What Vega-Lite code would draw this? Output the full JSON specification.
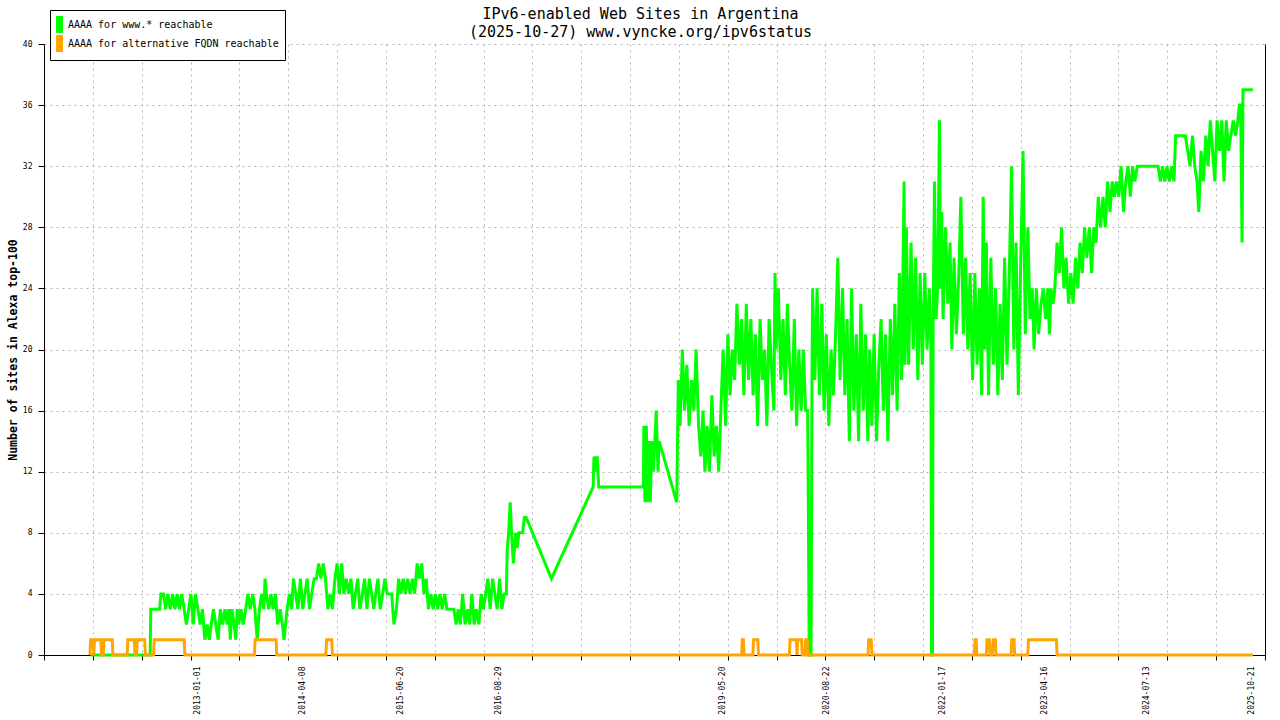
{
"$schema": "https://vega.github.io/schema/vega-lite/v6.json",
"width": 1221, "height": 611,
"autosize": {"type": "none"},
"padding": {"left": 44, "top": 44, "right": 15, "bottom": 65},
"background": "white",
"title": {"text": ["IPv6-enabled Web Sites in Argentina", "(2025-10-27) www.vyncke.org/ipv6status"], "font": "DejaVu Sans Mono", "fontSize": 15, "fontWeight": "normal", "lineHeight": 18, "anchor": "middle", "frame": "group", "dx": -14, "dy": 36, "offset": 6, "color": "black"},
"datasets": {
"g": [
{"d":"2011-09-12","v":0},{"d":"2012-06-03","v":0},{"d":"2012-06-06","v":3},{"d":"2012-07-15","v":3},{"d":"2012-07-21","v":4},{"d":"2012-08-01","v":4},{"d":"2012-08-11","v":3},{"d":"2012-08-21","v":4},{"d":"2012-09-01","v":3},{"d":"2012-09-11","v":4},{"d":"2012-09-21","v":3},{"d":"2012-10-01","v":4},{"d":"2012-10-11","v":3},{"d":"2012-10-21","v":4},{"d":"2012-11-01","v":3},{"d":"2012-11-11","v":2},{"d":"2012-11-21","v":3},{"d":"2012-12-01","v":4},{"d":"2012-12-11","v":2},{"d":"2012-12-21","v":4},
{"d":"2013-01-01","v":3},{"d":"2013-01-11","v":2},{"d":"2013-01-21","v":3},{"d":"2013-02-01","v":1},{"d":"2013-02-11","v":2},{"d":"2013-02-21","v":1},{"d":"2013-03-01","v":2},{"d":"2013-03-11","v":3},{"d":"2013-03-21","v":2},{"d":"2013-04-01","v":1},{"d":"2013-04-11","v":3},{"d":"2013-04-21","v":2},{"d":"2013-05-01","v":3},{"d":"2013-05-11","v":2},{"d":"2013-05-18","v":3},{"d":"2013-05-25","v":1},{"d":"2013-06-01","v":3},{"d":"2013-06-11","v":2},{"d":"2013-06-18","v":1},{"d":"2013-06-25","v":3},{"d":"2013-07-01","v":2},{"d":"2013-07-11","v":3},{"d":"2013-07-21","v":2},{"d":"2013-08-01","v":3},{"d":"2013-08-11","v":4},{"d":"2013-08-21","v":3},{"d":"2013-09-01","v":4},{"d":"2013-09-11","v":3},{"d":"2013-09-21","v":1},{"d":"2013-10-01","v":3},{"d":"2013-10-11","v":4},{"d":"2013-10-21","v":3},{"d":"2013-10-26","v":5},{"d":"2013-11-01","v":4},{"d":"2013-11-11","v":3},{"d":"2013-11-21","v":4},{"d":"2013-12-01","v":3},{"d":"2013-12-11","v":4},{"d":"2013-12-21","v":2},
{"d":"2014-01-01","v":3},{"d":"2014-01-11","v":2},{"d":"2014-01-18","v":1},{"d":"2014-01-25","v":2},{"d":"2014-02-01","v":3},{"d":"2014-02-11","v":4},{"d":"2014-02-21","v":3},{"d":"2014-03-01","v":5},{"d":"2014-03-11","v":4},{"d":"2014-03-21","v":3},{"d":"2014-04-01","v":5},{"d":"2014-04-11","v":3},{"d":"2014-04-21","v":4},{"d":"2014-05-01","v":5},{"d":"2014-05-11","v":3},{"d":"2014-05-21","v":4},{"d":"2014-06-01","v":5},{"d":"2014-06-11","v":5},{"d":"2014-06-21","v":6},{"d":"2014-07-01","v":5},{"d":"2014-07-11","v":6},{"d":"2014-07-21","v":5},{"d":"2014-08-01","v":3},{"d":"2014-08-11","v":4},{"d":"2014-08-21","v":3},{"d":"2014-09-01","v":5},{"d":"2014-09-11","v":6},{"d":"2014-09-21","v":4},{"d":"2014-10-01","v":6},{"d":"2014-10-11","v":4},{"d":"2014-10-21","v":5},{"d":"2014-11-01","v":4},{"d":"2014-11-11","v":5},{"d":"2014-11-21","v":3},{"d":"2014-12-01","v":4},{"d":"2014-12-11","v":5},{"d":"2014-12-21","v":3},
{"d":"2015-01-01","v":4},{"d":"2015-01-11","v":5},{"d":"2015-01-21","v":3},{"d":"2015-02-01","v":5},{"d":"2015-02-11","v":4},{"d":"2015-02-21","v":3},{"d":"2015-03-01","v":4},{"d":"2015-03-11","v":5},{"d":"2015-03-21","v":3},{"d":"2015-04-01","v":4},{"d":"2015-04-11","v":5},{"d":"2015-04-21","v":4},{"d":"2015-05-11","v":4},{"d":"2015-05-21","v":2},{"d":"2015-06-01","v":3},{"d":"2015-06-11","v":5},{"d":"2015-06-21","v":4},{"d":"2015-07-01","v":5},{"d":"2015-07-11","v":4},{"d":"2015-07-21","v":5},{"d":"2015-08-01","v":4},{"d":"2015-08-11","v":5},{"d":"2015-08-21","v":4},{"d":"2015-09-01","v":6},{"d":"2015-09-11","v":5},{"d":"2015-09-21","v":6},{"d":"2015-10-01","v":4},{"d":"2015-10-11","v":5},{"d":"2015-10-21","v":3},{"d":"2015-11-01","v":4},{"d":"2015-11-11","v":3},{"d":"2015-11-21","v":4},{"d":"2015-12-01","v":3},{"d":"2015-12-11","v":4},{"d":"2015-12-21","v":3},
{"d":"2016-01-01","v":4},{"d":"2016-01-11","v":3},{"d":"2016-02-11","v":3},{"d":"2016-02-21","v":2},{"d":"2016-03-01","v":3},{"d":"2016-03-11","v":2},{"d":"2016-03-21","v":4},{"d":"2016-04-01","v":2},{"d":"2016-04-11","v":3},{"d":"2016-04-21","v":2},{"d":"2016-05-01","v":4},{"d":"2016-05-11","v":2},{"d":"2016-05-21","v":3},{"d":"2016-06-01","v":2},{"d":"2016-06-11","v":4},{"d":"2016-06-21","v":3},{"d":"2016-07-01","v":4},{"d":"2016-07-11","v":5},{"d":"2016-07-21","v":3},{"d":"2016-08-01","v":5},{"d":"2016-08-11","v":4},{"d":"2016-08-21","v":3},{"d":"2016-09-01","v":5},{"d":"2016-09-11","v":3},{"d":"2016-09-21","v":4},{"d":"2016-10-01","v":4},{"d":"2016-10-05","v":7},{"d":"2016-10-11","v":8},{"d":"2016-10-18","v":10},{"d":"2016-10-24","v":8},{"d":"2016-11-01","v":6},{"d":"2016-11-11","v":8},{"d":"2016-11-18","v":7},{"d":"2016-11-25","v":8},{"d":"2016-12-12","v":8},{"d":"2016-12-20","v":9},{"d":"2016-12-28","v":9},
{"d":"2017-04-19","v":5},{"d":"2017-10-21","v":11},{"d":"2017-10-25","v":13},{"d":"2017-11-01","v":12},{"d":"2017-11-08","v":13},{"d":"2017-11-15","v":11},
{"d":"2018-06-01","v":11},{"d":"2018-06-03","v":15},{"d":"2018-06-08","v":10},{"d":"2018-06-14","v":15},{"d":"2018-06-20","v":10},{"d":"2018-06-26","v":14},{"d":"2018-07-02","v":10},{"d":"2018-07-08","v":14},{"d":"2018-07-15","v":12},{"d":"2018-07-22","v":14},{"d":"2018-07-28","v":16},{"d":"2018-08-05","v":12},{"d":"2018-08-10","v":14},{"d":"2018-10-27","v":10},{"d":"2018-11-03","v":18},{"d":"2018-11-11","v":15},{"d":"2018-11-21","v":20},{"d":"2018-12-01","v":16},{"d":"2018-12-11","v":19},{"d":"2018-12-21","v":15},
{"d":"2019-01-01","v":18},{"d":"2019-01-11","v":16},{"d":"2019-01-21","v":20},{"d":"2019-02-01","v":15},{"d":"2019-02-11","v":13},{"d":"2019-02-21","v":16},{"d":"2019-03-01","v":12},{"d":"2019-03-11","v":15},{"d":"2019-03-21","v":12},{"d":"2019-04-01","v":17},{"d":"2019-04-11","v":13},{"d":"2019-04-21","v":15},{"d":"2019-05-01","v":12},{"d":"2019-05-11","v":16},{"d":"2019-05-21","v":20},{"d":"2019-06-01","v":15},{"d":"2019-06-11","v":21},{"d":"2019-06-21","v":17},{"d":"2019-07-01","v":20},{"d":"2019-07-11","v":18},{"d":"2019-07-21","v":23},{"d":"2019-08-01","v":19},{"d":"2019-08-11","v":22},{"d":"2019-08-21","v":17},{"d":"2019-09-01","v":23},{"d":"2019-09-11","v":18},{"d":"2019-09-21","v":22},{"d":"2019-10-01","v":17},{"d":"2019-10-11","v":21},{"d":"2019-10-21","v":15},{"d":"2019-11-01","v":22},{"d":"2019-11-11","v":18},{"d":"2019-11-21","v":20},{"d":"2019-12-01","v":15},{"d":"2019-12-11","v":22},{"d":"2019-12-21","v":19},
{"d":"2020-01-01","v":16},{"d":"2020-01-06","v":25},{"d":"2020-01-11","v":20},{"d":"2020-01-21","v":24},{"d":"2020-02-01","v":18},{"d":"2020-02-11","v":22},{"d":"2020-02-21","v":17},{"d":"2020-03-01","v":23},{"d":"2020-03-11","v":19},{"d":"2020-03-21","v":16},{"d":"2020-04-01","v":22},{"d":"2020-04-11","v":15},{"d":"2020-04-21","v":20},{"d":"2020-05-01","v":16},{"d":"2020-05-11","v":20},{"d":"2020-05-21","v":16},{"d":"2020-05-30","v":16},{"d":"2020-06-02","v":10},{"d":"2020-06-06","v":0},{"d":"2020-06-14","v":0},{"d":"2020-06-18","v":17},{"d":"2020-06-21","v":24},{"d":"2020-07-01","v":18},{"d":"2020-07-11","v":24},{"d":"2020-07-21","v":17},{"d":"2020-08-01","v":23},{"d":"2020-08-11","v":16},{"d":"2020-08-21","v":21},{"d":"2020-09-01","v":15},{"d":"2020-09-11","v":20},{"d":"2020-09-21","v":17},{"d":"2020-10-01","v":21},{"d":"2020-10-11","v":26},{"d":"2020-10-21","v":18},{"d":"2020-11-01","v":24},{"d":"2020-11-11","v":17},{"d":"2020-11-21","v":22},{"d":"2020-12-01","v":14},{"d":"2020-12-11","v":24},{"d":"2020-12-21","v":16},
{"d":"2021-01-01","v":21},{"d":"2021-01-11","v":14},{"d":"2021-01-21","v":23},{"d":"2021-02-01","v":16},{"d":"2021-02-11","v":21},{"d":"2021-02-21","v":14},{"d":"2021-03-01","v":20},{"d":"2021-03-11","v":15},{"d":"2021-03-21","v":21},{"d":"2021-04-01","v":14},{"d":"2021-04-11","v":19},{"d":"2021-04-21","v":22},{"d":"2021-05-01","v":16},{"d":"2021-05-11","v":21},{"d":"2021-05-21","v":14},{"d":"2021-06-01","v":22},{"d":"2021-06-11","v":17},{"d":"2021-06-21","v":23},{"d":"2021-07-01","v":16},{"d":"2021-07-11","v":25},{"d":"2021-07-21","v":18},{"d":"2021-08-01","v":31},{"d":"2021-08-05","v":19},{"d":"2021-08-11","v":28},{"d":"2021-08-21","v":19},{"d":"2021-09-01","v":27},{"d":"2021-09-11","v":20},{"d":"2021-09-21","v":26},{"d":"2021-10-01","v":18},{"d":"2021-10-11","v":25},{"d":"2021-10-21","v":19},{"d":"2021-11-01","v":25},{"d":"2021-11-11","v":20},{"d":"2021-11-21","v":24},{"d":"2021-11-28","v":20},{"d":"2021-12-01","v":0},{"d":"2021-12-05","v":0},{"d":"2021-12-08","v":22},{"d":"2021-12-14","v":31},{"d":"2021-12-21","v":22},{"d":"2021-12-28","v":24},
{"d":"2022-01-05","v":35},{"d":"2022-01-10","v":24},{"d":"2022-01-15","v":29},{"d":"2022-01-21","v":22},{"d":"2022-02-01","v":28},{"d":"2022-02-11","v":23},{"d":"2022-02-21","v":27},{"d":"2022-03-01","v":20},{"d":"2022-03-11","v":26},{"d":"2022-03-21","v":21},{"d":"2022-04-01","v":25},{"d":"2022-04-10","v":30},{"d":"2022-04-21","v":21},{"d":"2022-05-01","v":26},{"d":"2022-05-11","v":20},{"d":"2022-05-21","v":25},{"d":"2022-06-01","v":18},{"d":"2022-06-11","v":25},{"d":"2022-06-21","v":19},{"d":"2022-07-01","v":24},{"d":"2022-07-11","v":17},{"d":"2022-07-18","v":30},{"d":"2022-07-25","v":20},{"d":"2022-08-01","v":27},{"d":"2022-08-11","v":17},{"d":"2022-08-21","v":26},{"d":"2022-09-01","v":19},{"d":"2022-09-11","v":24},{"d":"2022-09-21","v":17},{"d":"2022-10-01","v":23},{"d":"2022-10-11","v":18},{"d":"2022-10-21","v":26},{"d":"2022-11-01","v":19},{"d":"2022-11-11","v":25},{"d":"2022-11-21","v":32},{"d":"2022-12-01","v":20},{"d":"2022-12-11","v":27},{"d":"2022-12-21","v":17},
{"d":"2023-01-01","v":26},{"d":"2023-01-11","v":33},{"d":"2023-01-21","v":21},{"d":"2023-02-01","v":28},{"d":"2023-02-11","v":22},{"d":"2023-02-21","v":24},{"d":"2023-03-01","v":20},{"d":"2023-03-11","v":24},{"d":"2023-03-21","v":21},{"d":"2023-04-01","v":23},{"d":"2023-04-11","v":24},{"d":"2023-04-21","v":22},{"d":"2023-05-01","v":24},{"d":"2023-05-08","v":21},{"d":"2023-05-15","v":24},{"d":"2023-05-25","v":23},{"d":"2023-06-01","v":24},{"d":"2023-06-11","v":27},{"d":"2023-06-21","v":25},{"d":"2023-07-01","v":28},{"d":"2023-07-11","v":24},{"d":"2023-07-21","v":26},{"d":"2023-08-01","v":23},{"d":"2023-08-11","v":25},{"d":"2023-08-21","v":23},{"d":"2023-09-01","v":26},{"d":"2023-09-11","v":24},{"d":"2023-09-21","v":27},{"d":"2023-10-01","v":25},{"d":"2023-10-11","v":28},{"d":"2023-10-21","v":26},{"d":"2023-11-01","v":28},{"d":"2023-11-11","v":25},{"d":"2023-11-21","v":28},{"d":"2023-12-01","v":27},{"d":"2023-12-11","v":30},{"d":"2023-12-21","v":28},
{"d":"2024-01-01","v":30},{"d":"2024-01-11","v":28},{"d":"2024-01-21","v":31},{"d":"2024-02-01","v":29},{"d":"2024-02-11","v":31},{"d":"2024-02-21","v":30},{"d":"2024-03-01","v":31},{"d":"2024-03-11","v":30},{"d":"2024-03-21","v":32},{"d":"2024-04-01","v":29},{"d":"2024-04-11","v":31},{"d":"2024-04-21","v":32},{"d":"2024-05-01","v":30},{"d":"2024-05-11","v":32},{"d":"2024-05-21","v":31},{"d":"2024-06-01","v":32},{"d":"2024-09-01","v":32},{"d":"2024-09-11","v":31},{"d":"2024-09-21","v":32},{"d":"2024-10-01","v":31},{"d":"2024-10-11","v":32},{"d":"2024-10-21","v":31},{"d":"2024-11-01","v":32},{"d":"2024-11-11","v":31},{"d":"2024-11-18","v":34},{"d":"2024-12-31","v":34},
{"d":"2025-01-11","v":33},{"d":"2025-01-21","v":32},{"d":"2025-02-01","v":34},{"d":"2025-02-11","v":32},{"d":"2025-02-21","v":31},{"d":"2025-03-01","v":29},{"d":"2025-03-11","v":33},{"d":"2025-03-21","v":31},{"d":"2025-04-01","v":34},{"d":"2025-04-11","v":32},{"d":"2025-04-21","v":35},{"d":"2025-05-01","v":33},{"d":"2025-05-11","v":31},{"d":"2025-05-21","v":35},{"d":"2025-06-01","v":33},{"d":"2025-06-11","v":35},{"d":"2025-06-21","v":31},{"d":"2025-07-01","v":35},{"d":"2025-07-11","v":33},{"d":"2025-07-21","v":34},{"d":"2025-08-01","v":35},{"d":"2025-08-11","v":34},{"d":"2025-08-21","v":35},{"d":"2025-08-28","v":36},{"d":"2025-09-03","v":36},{"d":"2025-09-06","v":31},{"d":"2025-09-09","v":27},{"d":"2025-09-13","v":37},{"d":"2025-10-27","v":37}
],
"o": [
{"d":"2011-09-10","v":0},{"d":"2011-09-13","v":1},{"d":"2011-09-24","v":1},{"d":"2011-09-27","v":0},{"d":"2011-09-30","v":1},{"d":"2011-10-28","v":1},{"d":"2011-10-31","v":0},{"d":"2011-11-08","v":0},{"d":"2011-11-11","v":1},{"d":"2011-12-18","v":1},{"d":"2011-12-21","v":0},{"d":"2012-02-22","v":0},{"d":"2012-02-25","v":1},{"d":"2012-03-25","v":1},{"d":"2012-03-28","v":0},{"d":"2012-04-04","v":0},{"d":"2012-04-07","v":1},{"d":"2012-05-10","v":1},{"d":"2012-05-13","v":0},{"d":"2012-06-18","v":0},{"d":"2012-06-21","v":1},{"d":"2012-11-01","v":1},{"d":"2012-11-04","v":0},{"d":"2013-09-09","v":0},{"d":"2013-09-12","v":1},{"d":"2013-12-14","v":1},{"d":"2013-12-17","v":0},{"d":"2014-07-23","v":0},{"d":"2014-07-26","v":1},{"d":"2014-08-18","v":1},{"d":"2014-08-21","v":0},{"d":"2019-08-11","v":0},{"d":"2019-08-14","v":1},{"d":"2019-08-19","v":1},{"d":"2019-08-22","v":0},{"d":"2019-09-30","v":0},{"d":"2019-10-03","v":1},{"d":"2019-10-22","v":1},{"d":"2019-10-25","v":0},{"d":"2020-03-10","v":0},{"d":"2020-03-13","v":1},{"d":"2020-04-10","v":1},{"d":"2020-04-13","v":0},{"d":"2020-04-16","v":1},{"d":"2020-05-03","v":1},{"d":"2020-05-06","v":0},{"d":"2020-05-18","v":0},{"d":"2020-05-21","v":1},{"d":"2020-05-28","v":1},{"d":"2020-05-31","v":0},{"d":"2021-02-22","v":0},{"d":"2021-02-25","v":1},{"d":"2021-03-08","v":1},{"d":"2021-03-11","v":0},{"d":"2022-06-09","v":0},{"d":"2022-06-12","v":1},{"d":"2022-06-17","v":1},{"d":"2022-06-20","v":0},{"d":"2022-08-01","v":0},{"d":"2022-08-04","v":1},{"d":"2022-08-14","v":1},{"d":"2022-08-17","v":0},{"d":"2022-08-28","v":0},{"d":"2022-08-31","v":1},{"d":"2022-09-10","v":1},{"d":"2022-09-13","v":0},{"d":"2022-11-19","v":0},{"d":"2022-11-22","v":1},{"d":"2022-12-02","v":1},{"d":"2022-12-05","v":0},{"d":"2023-02-01","v":0},{"d":"2023-02-04","v":1},{"d":"2023-06-08","v":1},{"d":"2023-06-11","v":0},{"d":"2025-10-27","v":0}
]
},
"encoding": {
"x": {"field": "d", "type": "temporal",
"scale": {"type": "utc", "domain": [1297987200000, 1766167200000], "nice": false},
"axis": {
"values": [1297987200000,1316714400000,1335441600000,1354168800000,1372896000000,1391623200000,1410350400000,1429077600000,1447804800000,1466532000000,1485259200000,1503986400000,1522713600000,1541440800000,1560168000000,1578895200000,1597622400000,1616349600000,1635076800000,1653804000000,1672531200000,1691258400000,1709985600000,1728712800000,1747440000000,1766167200000,1356998400000,1396915200000,1434758400000,1472428800000,1558310400000,1598054400000,1642377600000,1681603200000,1720828800000,1761004800000],
"labelExpr": "indexof([1356998400000,1396915200000,1434758400000,1472428800000,1558310400000,1598054400000,1642377600000,1681603200000,1720828800000,1761004800000], time(datum.value)) >= 0 ? utcFormat(datum.value, '%Y-%m-%d') : ''",
"labelAngle": 270, "labelFont": "DejaVu Sans Mono", "labelFontSize": 8, "labelColor": "black", "labelPadding": 6, "labelOverlap": false, "labelBound": false, "labelFlush": false,
"tickSize": 5, "tickColor": "black", "domainColor": "black", "title": null,
"grid": true, "gridDash": [2, 4], "gridColor": "#b4b4b4",
"gridOpacity": {"condition": {"test": "indexof([1356998400000,1396915200000,1434758400000,1472428800000,1558310400000,1598054400000,1642377600000,1681603200000,1720828800000,1761004800000], time(datum.value)) >= 0", "value": 0}, "value": 1},
"tickOpacity": {"condition": {"test": "indexof([1356998400000,1396915200000,1434758400000,1472428800000,1558310400000,1598054400000,1642377600000,1681603200000,1720828800000,1761004800000], time(datum.value)) >= 0", "value": 0}, "value": 1}
}}
},
"layer": [
{"data": {"name": "g"},
"mark": {"type": "line", "strokeWidth": 3, "interpolate": "linear"},
"encoding": {
"y": {"field": "v", "type": "quantitative", "scale": {"domain": [0, 40], "nice": false},
"axis": {"values": [0,4,8,12,16,20,24,28,32,36,40], "title": "Number of sites in Alexa top-100", "titleFont": "DejaVu Sans Mono", "titleFontSize": 11.5, "titleFontWeight": "bold", "titleColor": "black", "titlePadding": 4,
"labelFont": "DejaVu Sans Mono", "labelFontSize": 8, "labelColor": "black", "labelPadding": 6, "tickSize": 6, "tickColor": "black", "domainColor": "black",
"grid": true, "gridDash": [2, 4], "gridColor": "#b4b4b4"}},
"color": {"datum": "AAAA for www.* reachable",
"scale": {"domain": ["AAAA for www.* reachable", "AAAA for alternative FQDN reachable"], "range": ["#00ff00", "#ffa500"]},
"legend": {"title": null, "orient": "none", "legendX": 6, "legendY": -34, "direction": "vertical",
"labelFont": "DejaVu Sans Mono", "labelFontSize": 10, "labelColor": "black", "labelLimit": 400, "strokeColor": "black", "fillColor": "white", "padding": 6,
"symbolType": "M-0.375,-1L0.375,-1L0.375,1L-0.375,1Z", "symbolSize": 256, "symbolStrokeColor": "black", "symbolStrokeWidth": 1, "symbolOffset": -5, "labelOffset": 0, "rowPadding": -4,
"encode": {"symbols": {"update": {"fill": {"scale": "color", "field": "value"}, "stroke": {"value": "black"}, "strokeWidth": {"value": 1}, "opacity": {"value": 1}}}}}}
}},
{"data": {"name": "o"},
"mark": {"type": "line", "strokeWidth": 3, "interpolate": "linear"},
"encoding": {
"y": {"field": "v", "type": "quantitative", "scale": {"domain": [0, 40], "nice": false},
"axis": {"orient": "right", "labels": false, "ticks": false, "grid": false, "domain": true, "domainColor": "black", "title": null}},
"color": {"datum": "AAAA for alternative FQDN reachable"}
}}
],
"resolve": {"scale": {"y": "independent"}},
"config": {"view": {"stroke": null}, "axis": {"domainWidth": 1, "tickWidth": 1}}
}
